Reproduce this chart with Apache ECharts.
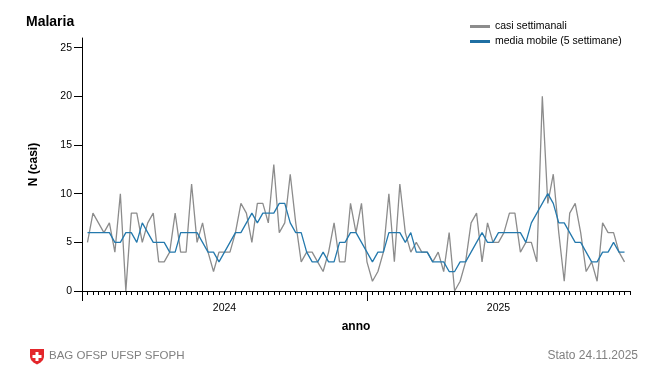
<!DOCTYPE html>
<html><head><meta charset="utf-8">
<script src="https://cdn.jsdelivr.net/npm/echarts@6/dist/echarts.min.js"></script>
<style>html,body{margin:0;padding:0;background:#fff}#c{width:650px;height:368px}</style>
</head><body><div id="c"></div>
<script>
// Data (2024-W01 .. 2025-W47)
const yearLabels = ['2024', '2025'];
const weeksPerYear = [52, 47];
const weeklyCases = [
  5,8,7,6,7,4,10,0,8,8,
  5,7,8,3,3,4,8,4,4,11,
  5,7,4,2,4,4,4,6,9,8,
  5,9,9,7,13,6,7,12,7,3,
  4,4,3,2,4,7,3,3,9,6,
  9,3,1,2,4,10,3,11,6,4,
  5,4,4,3,4,2,6,0,1,3,
  7,8,3,7,5,5,6,8,8,4,
  5,5,3,20,9,12,6,1,8,9,
  6,2,3,1,7,6,6,4,3
];
const movingAverage = [
  6,6,6,6,6,5,5,6,6,5,
  7,6,5,5,5,4,4,6,6,6,
  6,5,4,4,3,4,5,6,6,7,
  8,7,8,8,8,9,9,7,6,6,
  4,3,3,4,3,3,5,5,6,6,
  5,4,3,4,4,6,6,6,5,6,
  4,4,4,3,3,3,2,2,3,3,
  4,5,6,5,5,6,6,6,6,6,
  5,7,8,9,10,9,7,7,6,5,
  5,4,3,3,4,4,5,4,4
];
const yTickValues = [0, 5, 10, 15, 20, 25];
const seriesNames = ['casi settimanali', 'media mobile (5 settimane)'];

const FONT = "'Liberation Sans', Arial, sans-serif";
const totalWeeks = weeksPerYear.reduce((a, b) => a + b, 0);
const xMax = totalWeeks + 1;
// year boundaries and label positions (centre of visible part of each year)
const boundaries = [];
const labelPos = [];
let acc = 0;
weeksPerYear.forEach((w, i) => {
  boundaries.push(acc);
  const end = (i === weeksPerYear.length - 1) ? xMax : acc + w;
  labelPos.push((acc + end) / 2);
  acc += w;
});

const pts = arr => arr.map((v, i) => [i + 1, v]);

const chart = echarts.init(document.getElementById('c'), null, {renderer: 'canvas'});
chart.setOption({
  animation: false,
  backgroundColor: '#fff',
  title: {
    text: 'Malaria', left: 21, top: 10,
    textStyle: {fontFamily: FONT, fontSize: 14, fontWeight: 'bold', color: '#000'}
  },
  legend: {
    orient: 'vertical', left: 470, top: 21, itemGap: 4,
    itemWidth: 20, itemHeight: 3, icon: 'rect', padding: 0,
    textStyle: {fontFamily: FONT, fontSize: 10.5, color: '#000'},
    data: seriesNames
  },
  grid: {left: 82, right: 20, top: 38, bottom: 77},
  xAxis: [
    {
      type: 'value', min: 0, max: xMax, interval: 1, position: 'bottom',
      axisLine: {show: true, lineStyle: {color: '#000', width: 1}},
      axisTick: {show: true, length: 4, lineStyle: {color: '#000', width: 1}},
      axisLabel: {show: false},
      splitLine: {show: false},
      name: 'anno', nameLocation: 'middle', nameGap: 30,
      nameTextStyle: {fontFamily: FONT, fontSize: 12, fontWeight: 'bold', color: '#000'}
    },
    {
      type: 'value', min: 0, max: xMax, position: 'bottom', offset: 0,
      axisLine: {show: false},
      axisTick: {show: true, length: 10, customValues: boundaries, lineStyle: {color: '#000', width: 1}},
      axisLabel: {
        show: true, customValues: labelPos, margin: 12,
        fontFamily: FONT, fontSize: 10.5, color: '#000',
        formatter: v => { const k = labelPos.indexOf(v); return k >= 0 ? yearLabels[k] : ''; }
      },
      splitLine: {show: false}
    }
  ],
  yAxis: {
    type: 'value', min: 0, max: 26,
    axisLine: {show: true, lineStyle: {color: '#000', width: 1}},
    axisTick: {show: true, length: 8, customValues: yTickValues, lineStyle: {color: '#000', width: 1}},
    axisLabel: {customValues: yTickValues, margin: 10, fontFamily: FONT, fontSize: 10.5, color: '#000'},
    splitLine: {show: false},
    name: 'N (casi)', nameLocation: 'middle', nameGap: 42, nameRotate: 90,
    nameTextStyle: {fontFamily: FONT, fontSize: 12, fontWeight: 'bold', color: '#000'}
  },
  series: [
    {
      name: seriesNames[0], type: 'line', xAxisIndex: 0, data: pts(weeklyCases),
      symbol: 'none', color: '#8c8c8c', lineStyle: {color: '#8c8c8c', width: 1.3}
    },
    {
      name: seriesNames[1], type: 'line', xAxisIndex: 0, data: pts(movingAverage),
      symbol: 'none', color: '#1f6fa3', lineStyle: {color: '#2479ad', width: 1.3}
    }
  ],
  graphic: [
    {type: 'polygon', shape: {points: [[30,349],[44,349],[44,357],[43,360],[40.5,362.5],[37,364.5],[33.5,362.5],[31,360],[30,357]]}, style: {fill: '#e3262b'}},
    {type: 'rect', shape: {x: 32.5, y: 355, width: 9, height: 3}, style: {fill: '#fff'}},
    {type: 'rect', shape: {x: 35.5, y: 352, width: 3, height: 9}, style: {fill: '#fff'}},
    {type: 'text', left: 49, top: 350, style: {text: 'BAG OFSP UFSP SFOPH', font: '11.5px ' + FONT, fill: '#808080'}},
    {type: 'text', right: 12, top: 350, style: {text: 'Stato 24.11.2025', font: '12px ' + FONT, fill: '#808080'}}
  ]
});
</script>
</body></html>
